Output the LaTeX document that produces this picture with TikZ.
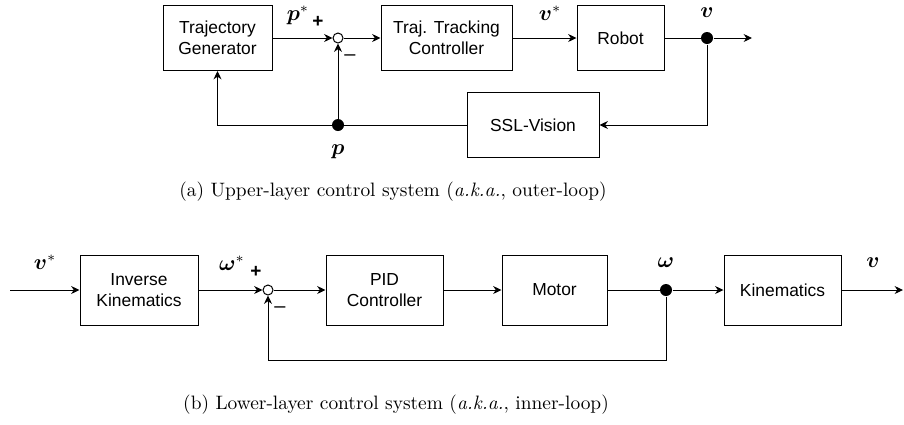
\documentclass[tikz,border=0pt]{standalone}
\usepackage{fontspec}
\setsansfont{Liberation Sans}
\usepackage{amsmath}
\usepackage{bm}
\usetikzlibrary{arrows.meta}

\begin{document}
\begin{tikzpicture}[x=0.5pt,y=-0.5pt,line width=0.5pt,
        blk/.style = {draw, rectangle, inner sep=0pt, align=center, font=\sffamily\fontsize{8.7}{10.5}\selectfont},
        sum/.style = {draw, circle, fill=white, inner sep=0pt, minimum size=5pt},
        dot/.style = {fill, circle, inner sep=0pt, minimum size=6pt},
        lbl/.style = {font=\fontsize{10.5}{12}\selectfont},
        sgn/.style = {font=\sffamily\bfseries\fontsize{9.5}{10}\selectfont},
        neg/.style = {font=\sffamily\fontsize{10}{10}\selectfont},
        captxt/.style = {font=\fontsize{9.7}{11}\selectfont},
        >={Stealth[length=4.2pt,width=4pt]}]
        \useasboundingbox (0,0) rectangle (904,424);
        % outer loop
        \node[blk, minimum width=54.5pt, minimum height=32.5pt] (tg) at (217.5,38) {Trajectory\\Generator};
        \node[sum] (s1) at (338,38) {};
        \node[blk, minimum width=65.5pt, minimum height=32.5pt] (ttc) at (446.5,38) {Traj. Tracking\\Controller};
        \node[blk, minimum width=43.5pt, minimum height=32.5pt] (rob) at (620.5,38) {Robot};
        \node[dot] (d1) at (707,38) {};
        \coordinate (o1) at (752,38);
        \node[blk, minimum width=66pt, minimum height=32.5pt] (ssl) at (533,125) {SSL-Vision};
        \node[dot] (d2) at (338,125) {};
        \draw[->] (tg) -- (s1);
        \draw[->] (s1) -- (ttc);
        \draw[->] (ttc) -- (rob);
        \draw (rob) -- (d1);
        \draw[->] (d1) -- (o1);
        \draw[->] (d1) |- (ssl.east);
        \draw[->] (ssl.west) -| (tg.south);
        \draw[->] (d2) -- (s1);
        \node[lbl] (ps) at (298,15) {$\bm{p}^{*}$};
        \node[sgn] (pl1) at (318,22) {+};
        \node[neg] (mi1) at (350,58) {\textendash};
        \node[lbl] (p) at (338,152) {$\bm{p}$};
        \node[lbl] (vs) at (550,13) {$\bm{v}^{*}$};
        \node[lbl] (v) at (707,13) {$\bm{v}$};
        \node[captxt] (cap1) at (393,192) {(a) Upper-layer control system (\textit{a.k.a.}, outer-loop)};
        % inner loop
        \coordinate (i2) at (10,290);
        \node[blk, minimum width=59pt, minimum height=35pt] (ik) at (139,290) {Inverse\\Kinematics};
        \node[sum] (s2) at (268,290) {};
        \node[blk, minimum width=58.5pt, minimum height=35pt] (pid) at (384.5,290) {PID\\Controller};
        \node[blk, minimum width=52.5pt, minimum height=35pt] (mot) at (554.5,290) {Motor};
        \node[dot] (d3) at (666,290) {};
        \node[blk, minimum width=58.5pt, minimum height=35pt] (kin) at (782.5,290) {Kinematics};
        \coordinate (o2) at (903,290);
        \draw[->] (i2) -- (ik);
        \draw[->] (ik) -- (s2);
        \draw[->] (s2) -- (pid);
        \draw[->] (pid) -- (mot);
        \draw (mot) -- (d3);
        \draw[->] (d3) -- (kin);
        \draw[->] (kin) -- (o2);
        \draw[->] (d3) -- ++(0,70) -| (s2.south);
        \node[lbl] (vs2) at (45,262) {$\bm{v}^{*}$};
        \node[lbl] (ws) at (232,263) {$\bm{\omega}^{*}$};
        \node[sgn] (pl2) at (256,272) {+};
        \node[neg] (mi2) at (280,310) {\textendash};
        \node[lbl] (w) at (666,263) {$\bm{\omega}$};
        \node[lbl] (v2) at (873,263) {$\bm{v}$};
        \node[captxt] (cap2) at (396,405) {(b) Lower-layer control system (\textit{a.k.a.}, inner-loop)};
\end{tikzpicture}
\end{document}
